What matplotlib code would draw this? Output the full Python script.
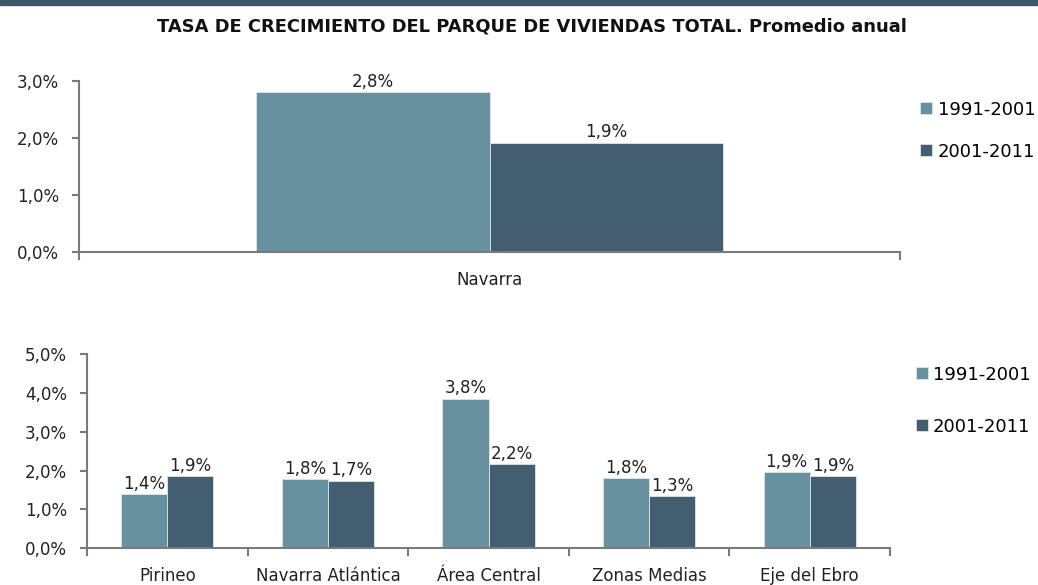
import matplotlib
matplotlib.use("Agg")
import matplotlib.pyplot as plt
import numpy as np
from matplotlib.patches import Rectangle

plt.rcParams["font.family"] = ["DejaVu Sans"]

_LIGHT = "#6891a0"
_DARK = "#425e70"
_AXIS = "#7a7a7a"
_TXT = "#222222"

series = ["1991-2001", "2001-2011"]

top_cats = ["Navarra"]
top_1991 = [2.80]
top_2001 = [1.92]
top_labels_1991 = ["2,8%"]
top_labels_2001 = ["1,9%"]
top_ticks = [0.0, 1.0, 2.0, 3.0]

bot_cats = ["Pirineo", "Navarra Atlántica", "Área Central", "Zonas Medias", "Eje del Ebro"]
bot_1991 = [1.39, 1.78, 3.85, 1.80, 1.95]
bot_2001 = [1.86, 1.74, 2.16, 1.33, 1.86]
bot_labels_1991 = ["1,4%", "1,8%", "3,8%", "1,8%", "1,9%"]
bot_labels_2001 = ["1,9%", "1,7%", "2,2%", "1,3%", "1,9%"]
bot_ticks = [0.0, 1.0, 2.0, 3.0, 4.0, 5.0]

TITLE = "TASA DE CRECIMIENTO DEL PARQUE DE VIVIENDAS TOTAL. Promedio anual"


def _fmt(v):
    return f"{v:.1f}".replace(".", ",") + "%"


def _style(ax, yticks):
    for s in ["top", "right"]:
        ax.spines[s].set_visible(False)
    for s in ["left", "bottom"]:
        ax.spines[s].set_color(_AXIS)
        ax.spines[s].set_linewidth(1.5)
    ax.set_ylim(yticks[0], yticks[-1])
    ax.set_yticks(yticks)
    ax.set_yticklabels([_fmt(v) for v in yticks])
    ax.tick_params(axis="y", length=5, width=1.5, color=_AXIS, labelsize=12, labelcolor=_TXT, pad=9.5)
    ax.tick_params(axis="x", which="major", length=0, labelsize=12, labelcolor=_TXT, pad=14)
    ax.tick_params(axis="x", which="minor", length=6, width=1.5, color=_AXIS)


def _bars(ax, cats, v1, v2, l1, l2, width):
    x = np.arange(len(cats))
    b1 = ax.bar(x - width / 2, v1, width, color=_LIGHT, edgecolor="#dfe6ea", linewidth=0.6, label=series[0])
    b2 = ax.bar(x + width / 2, v2, width, color=_DARK, edgecolor="#dfe6ea", linewidth=0.6, label=series[1])
    for bars, labs in ((b1, l1), (b2, l2)):
        for r, lab in zip(bars, labs):
            ax.annotate(lab, (r.get_x() + r.get_width() / 2, r.get_height()),
                        xytext=(0, 1), textcoords="offset points",
                        ha="center", va="bottom", fontsize=12, color=_TXT)
    ax.set_xlim(-0.5, len(cats) - 0.5)
    ax.set_xticks(x)
    ax.set_xticklabels(cats)
    ax.set_xticks(np.arange(len(cats) + 1) - 0.5, minor=True)
    return b1, b2


fig = plt.figure(figsize=(10.38, 5.85), dpi=100)

# top band
fig.patches.append(Rectangle((0, 1 - 5 / 585), 1, 5 / 585, transform=fig.transFigure,
                             color="#3e5768", zorder=0))
fig.text(0.512, 1 - 27 / 585, TITLE, ha="center", va="center", fontsize=12.9,
         fontweight="bold", color="#111111")

# top chart: Navarra
ax1 = fig.add_axes([79 / 1038, 1 - 252 / 585, 821 / 1038, 171 / 585])
_bars(ax1, top_cats, top_1991, top_2001, top_labels_1991, top_labels_2001, 0.285)
_style(ax1, top_ticks)
ax1.legend(loc="upper left", bbox_to_anchor=(1.005, 0.98), frameon=False, fontsize=13,
           handlelength=0.65, handleheight=0.65, handletextpad=0.3, labelspacing=1.32)

# bottom chart: zonas
ax2 = fig.add_axes([87 / 1038, 1 - 548 / 585, 803 / 1038, 193.7 / 585])
_bars(ax2, bot_cats, bot_1991, bot_2001, bot_labels_1991, bot_labels_2001, 0.287)
_style(ax2, bot_ticks)
ax2.legend(loc="upper left", bbox_to_anchor=(1.012, 1.025), frameon=False, fontsize=13,
           handlelength=0.65, handleheight=0.65, handletextpad=0.3, labelspacing=1.88)

fig.savefig("out.png", dpi=100)
